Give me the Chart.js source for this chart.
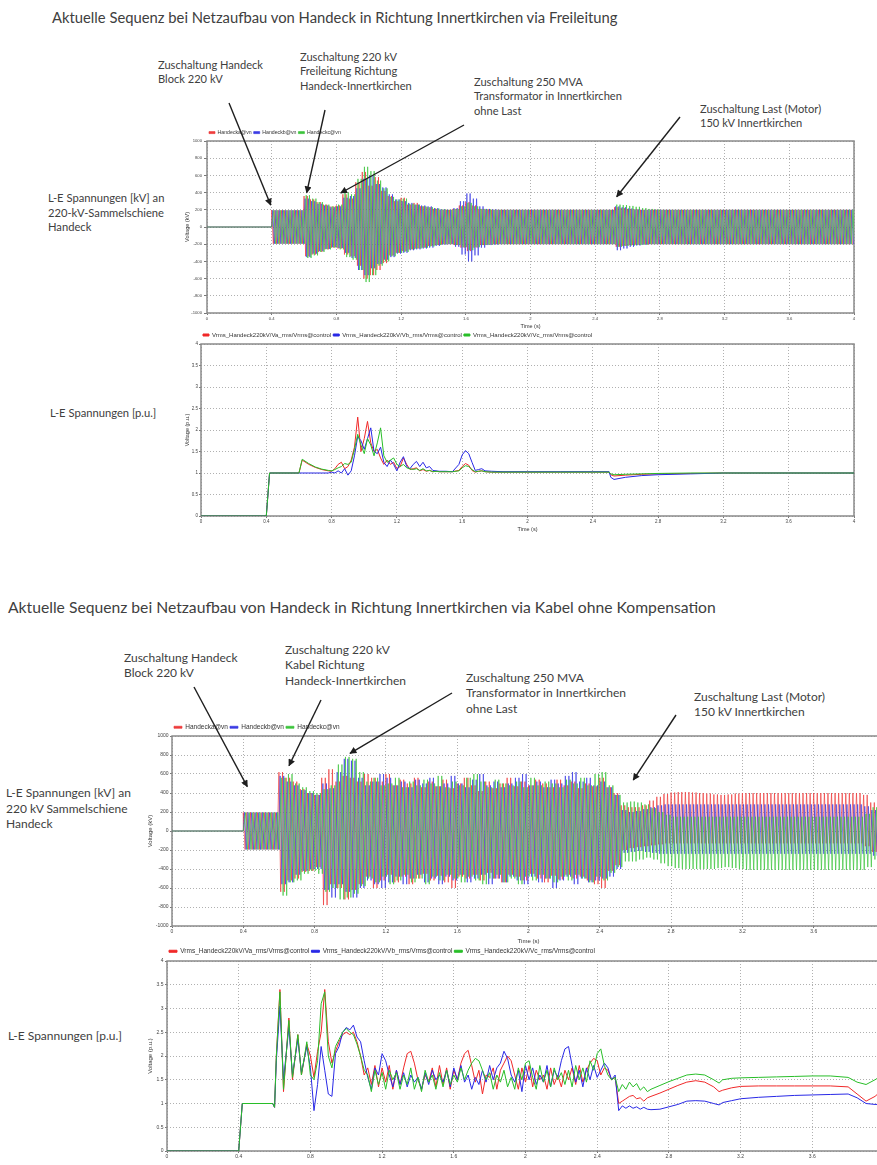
<!DOCTYPE html>
<html>
<head>
<meta charset="utf-8">
<title>Netzaufbau Handeck - Innertkirchen</title>
<script src="https://cdn.jsdelivr.net/npm/chart.js@4.4.1/dist/chart.umd.min.js"></script>
<style>
  html, body { margin: 0; padding: 0; background: #fff; }
  body { position: relative; width: 877px; height: 1165px; overflow: hidden; font-family: Lato, "Open Sans", sans-serif; color: #404040; }
  .txt { position: absolute; white-space: nowrap; }
  canvas { position: absolute; }
  svg { position: absolute; left: 0; top: 0; }
</style>
</head>
<body>

<!-- oben: Freileitung -->
<div class="txt" style="left:52px;top:8px;font-size:14.8px;line-height:18px">Aktuelle Sequenz bei Netzaufbau von Handeck in Richtung Innertkirchen via Freileitung</div>
<div class="txt" style="left:158px;top:58px;font-size:11.1px;line-height:14.3px">Zuschaltung Handeck<br>Block 220 kV</div>
<div class="txt" style="left:300px;top:50px;font-size:11.1px;line-height:14.3px">Zuschaltung 220 kV<br>Freileitung Richtung<br>Handeck-Innertkirchen</div>
<div class="txt" style="left:474px;top:75px;font-size:11.1px;line-height:14.3px">Zuschaltung 250 MVA<br>Transformator in Innertkirchen<br>ohne Last</div>
<div class="txt" style="left:700px;top:102px;font-size:11.1px;line-height:14.3px">Zuschaltung Last (Motor)<br>150 kV Innertkirchen</div>
<div class="txt" style="left:48px;top:191px;font-size:11.2px;line-height:14.7px">L-E Spannungen [kV] an<br>220-kV-Sammelschiene<br>Handeck</div>
<div class="txt" style="left:50px;top:406px;font-size:11.2px;line-height:14.7px">L-E Spannungen [p.u.]</div>

<!-- unten: Kabel -->
<div class="txt" style="left:8px;top:597px;font-size:15.7px;line-height:20px">Aktuelle Sequenz bei Netzaufbau von Handeck in Richtung Innertkirchen via Kabel ohne Kompensation</div>
<div class="txt" style="left:124px;top:650px;font-size:12px;line-height:15.3px">Zuschaltung Handeck<br>Block 220 kV</div>
<div class="txt" style="left:285px;top:642px;font-size:12px;line-height:15.3px">Zuschaltung 220 kV<br>Kabel Richtung<br>Handeck-Innertkirchen</div>
<div class="txt" style="left:466px;top:670px;font-size:12px;line-height:15.3px">Zuschaltung 250 MVA<br>Transformator in Innertkirchen<br>ohne Last</div>
<div class="txt" style="left:694px;top:689px;font-size:12px;line-height:15.3px">Zuschaltung Last (Motor)<br>150 kV Innertkirchen</div>
<div class="txt" style="left:6px;top:785px;font-size:12px;line-height:15.6px">L-E Spannungen [kV] an<br>220 kV Sammelschiene<br>Handeck</div>
<div class="txt" style="left:8px;top:1028px;font-size:12px;line-height:15.6px">L-E Spannungen [p.u.]</div>

<canvas id="osc1"></canvas>
<canvas id="rms1"></canvas>
<canvas id="osc2"></canvas>
<canvas id="rms2"></canvas>

<svg width="877" height="1165">
  <defs>
    <marker id="ah" viewBox="0 0 10 10" refX="9" refY="5" markerWidth="8" markerHeight="7" orient="auto" markerUnits="userSpaceOnUse">
      <path d="M0,0 L10,5 L0,10 z" fill="#1e1e1e"/>
    </marker>
  </defs>
  <g stroke="#1e1e1e" stroke-width="1.4" marker-end="url(#ah)">
    <line x1="229" y1="103" x2="270.7" y2="205"/>
    <line x1="325" y1="110" x2="306.7" y2="192.7"/>
    <line x1="464" y1="125" x2="340.7" y2="193"/>
    <line x1="680" y1="117" x2="616.7" y2="196.7"/>
    <line x1="194" y1="687" x2="247.3" y2="786.7"/>
    <line x1="321" y1="700" x2="289" y2="765.7"/>
    <line x1="452" y1="693" x2="350" y2="753.3"/>
    <line x1="676" y1="715" x2="633.3" y2="780"/>
  </g>
</svg>

<script>
// --- ACHSEN / LEGENDEN ---
const timeTicks = [0, 0.4, 0.8, 1.2, 1.6, 2, 2.4, 2.8, 3.2, 3.6, 4];
const timeLabels = ['0', '0.4', '0.8', '1.2', '1.6', '2', '2.4', '2.8', '3.2', '3.6', '4'];
const kvTicks = [-1000, -800, -600, -400, -200, 0, 200, 400, 600, 800, 1000];
const kvLabels = ['-1000', '-800', '-600', '-400', '-200', '0', '200', '400', '600', '800', '1000'];
const puTicks = [0, 0.5, 1, 1.5, 2, 2.5, 3, 3.5, 4];
const puLabels = ['0', '0.5', '1', '1.5', '2', '2.5', '3', '3.5', '4'];
const oscNames = ['Handecka@vn', 'Handeckb@vn', 'Handeckc@vn'];
const rmsNames = ['Vrms_Handeck220kV/Va_rms/Vrms@control', 'Vrms_Handeck220kV/Vb_rms/Vrms@control', 'Vrms_Handeck220kV/Vc_rms/Vrms@control'];

// --- OSZILLOGRAMME: Scheitelwerte [kV] je 0.04-s-Fenster ab 0.4 s (hi = positiv, lo = negativ) ---
const oscStart = 0.4;
const oscStep = 0.04;
const netPeriod = 0.02; // 50 Hz

// Freileitung
const osc1HiA = [195, 195, 195, 195, 195, 360, 320, 290, 260, 240,
  250, 380, 330, 520, 640, 480, 580, 420, 360, 300,
  340, 260, 280, 240, 230, 210, 200, 200, 210, 250,
  290, 250, 210, 205, 200, 200, 200, 200, 200, 200,
  200, 200, 200, 200, 200, 200, 200, 200, 200, 200,
  200, 200, 200, 230, 220, 210, 205, 200, 200, 200,
  200, 200, 200, 200, 200, 200, 200, 200, 200, 200,
  200, 200, 200, 200, 200, 200, 200, 200, 200, 200,
  200, 200, 200, 200, 200, 200, 200, 200, 200, 200];
const osc1LoA = [-195, -195, -195, -195, -195, -340, -320, -290, -260, -240,
  -250, -320, -340, -450, -600, -560, -500, -420, -330, -300,
  -280, -260, -250, -240, -220, -210, -200, -200, -210, -240,
  -280, -240, -210, -205, -200, -200, -200, -200, -200, -200,
  -200, -200, -200, -200, -200, -200, -200, -200, -200, -200,
  -200, -200, -200, -230, -220, -210, -205, -200, -200, -200,
  -200, -200, -200, -200, -200, -200, -200, -200, -200, -200,
  -200, -200, -200, -200, -200, -200, -200, -200, -200, -200,
  -200, -200, -200, -200, -200, -200, -200, -200, -200, -200];
const osc1HiB = [195, 195, 195, 195, 195, 330, 300, 270, 250, 230,
  240, 340, 360, 450, 560, 600, 500, 460, 380, 320,
  300, 280, 260, 250, 240, 220, 205, 200, 220, 300,
  390, 330, 240, 210, 205, 200, 200, 200, 200, 200,
  200, 200, 200, 200, 200, 200, 200, 200, 200, 200,
  200, 200, 200, 240, 230, 215, 205, 200, 200, 200,
  200, 200, 200, 200, 200, 200, 200, 200, 200, 200,
  200, 200, 200, 200, 200, 200, 200, 200, 200, 200,
  200, 200, 200, 200, 200, 200, 200, 200, 200, 200];
const osc1LoB = [-195, -195, -195, -195, -195, -350, -310, -280, -255, -235,
  -245, -300, -360, -500, -560, -480, -430, -380, -350, -310,
  -300, -270, -260, -250, -240, -220, -205, -200, -230, -320,
  -400, -330, -240, -210, -205, -200, -200, -200, -200, -200,
  -200, -200, -200, -200, -200, -200, -200, -200, -200, -200,
  -200, -200, -200, -270, -250, -230, -215, -205, -200, -200,
  -200, -200, -200, -200, -200, -200, -200, -200, -200, -200,
  -200, -200, -200, -200, -200, -200, -200, -200, -200, -200,
  -200, -200, -200, -200, -200, -200, -200, -200, -200, -200];
const osc1HiC = [195, 195, 195, 195, 195, 370, 330, 290, 260, 240,
  260, 400, 380, 560, 700, 650, 540, 450, 350, 320,
  330, 270, 260, 240, 230, 215, 205, 200, 210, 240,
  280, 240, 210, 205, 200, 200, 200, 200, 200, 200,
  200, 200, 200, 200, 200, 200, 200, 200, 200, 200,
  200, 200, 200, 260, 255, 245, 235, 220, 210, 205,
  200, 200, 200, 200, 200, 200, 200, 200, 200, 200,
  200, 200, 200, 200, 200, 200, 200, 200, 200, 200,
  200, 200, 200, 200, 200, 200, 200, 200, 200, 200];
const osc1LoC = [-195, -195, -195, -195, -195, -360, -330, -290, -260, -240,
  -260, -350, -380, -500, -640, -560, -450, -400, -340, -300,
  -290, -260, -250, -240, -225, -210, -200, -200, -210, -235,
  -270, -235, -210, -205, -200, -200, -200, -200, -200, -200,
  -200, -200, -200, -200, -200, -200, -200, -200, -200, -200,
  -200, -200, -200, -230, -220, -215, -210, -205, -200, -200,
  -200, -200, -200, -200, -200, -200, -200, -200, -200, -200,
  -200, -200, -200, -200, -200, -200, -200, -200, -200, -200,
  -200, -200, -200, -200, -200, -200, -200, -200, -200, -200];

// Kabel ohne Kompensation
const osc2HiA = [195, 195, 195, 195, 195, 620, 560, 520, 440, 400,
  380, 560, 650, 520, 580, 560, 520, 600, 560, 520,
  600, 480, 540, 500, 560, 460, 520, 470, 540, 450,
  500, 560, 480, 420, 520, 450, 500, 560, 470, 520,
  480, 540, 500, 460, 540, 480, 520, 450, 500, 470,
  560, 460, 400, 270, 250, 250, 270, 320, 360, 390,
  405, 410, 410, 405, 400, 395, 385, 380, 385, 395,
  400, 400, 400, 400, 400, 400, 400, 400, 400, 400,
  400, 400, 400, 400, 400, 400, 400, 380, 300, 240];
const osc2LoA = [-195, -195, -195, -195, -195, -640, -520, -500, -430, -420,
  -380, -780, -560, -600, -720, -620, -560, -480, -600, -520,
  -460, -540, -480, -560, -500, -450, -520, -470, -540, -600,
  -480, -500, -460, -520, -440, -500, -540, -460, -480, -520,
  -450, -500, -540, -470, -510, -460, -500, -480, -520, -560,
  -600, -420, -360, -200, -180, -170, -160, -150, -140, -130,
  -130, -130, -130, -130, -130, -130, -130, -130, -130, -130,
  -130, -130, -130, -130, -130, -130, -130, -130, -130, -130,
  -130, -130, -130, -130, -130, -130, -130, -160, -220, -260];
const osc2HiB = [195, 195, 195, 195, 195, 580, 520, 480, 430, 400,
  380, 500, 450, 620, 760, 740, 560, 480, 520, 600,
  560, 480, 520, 460, 540, 500, 560, 470, 500, 580,
  500, 460, 540, 600, 480, 520, 460, 500, 560, 600,
  480, 520, 460, 540, 500, 580, 620, 520, 560, 480,
  520, 460, 380, 220, 200, 210, 230, 250, 270, 280,
  280, 280, 280, 280, 280, 280, 280, 280, 280, 280,
  280, 280, 280, 280, 280, 280, 280, 280, 280, 280,
  280, 280, 280, 280, 280, 280, 280, 260, 220, 200];
const osc2LoB = [-195, -195, -195, -195, -195, -560, -540, -460, -420, -400,
  -400, -620, -700, -560, -640, -700, -600, -520, -560, -600,
  -540, -480, -560, -500, -460, -540, -500, -560, -480, -520,
  -460, -540, -500, -460, -560, -500, -540, -480, -520, -560,
  -480, -540, -500, -600, -520, -480, -560, -500, -540, -520,
  -500, -480, -400, -230, -220, -210, -220, -230, -240, -240,
  -240, -240, -240, -240, -240, -240, -240, -240, -240, -240,
  -240, -240, -240, -240, -240, -240, -240, -240, -240, -240,
  -240, -240, -240, -240, -240, -240, -240, -240, -260, -280];
const osc2HiC = [195, 195, 195, 195, 195, 560, 600, 500, 460, 420,
  400, 440, 480, 700, 780, 760, 620, 520, 560, 480,
  500, 560, 460, 520, 480, 540, 500, 580, 460, 520,
  480, 560, 600, 520, 460, 540, 500, 480, 520, 460,
  560, 480, 520, 500, 460, 540, 500, 560, 480, 600,
  620, 480, 380, 300, 310, 300, 280, 240, 200, 170,
  150, 150, 150, 150, 150, 150, 150, 150, 150, 150,
  150, 150, 150, 150, 150, 150, 150, 150, 150, 150,
  150, 150, 150, 150, 150, 150, 150, 180, 250, 330];
const osc2LoC = [-195, -195, -195, -195, -195, -680, -540, -520, -450, -420,
  -450, -640, -600, -720, -700, -660, -580, -500, -540, -480,
  -560, -520, -460, -540, -500, -560, -480, -520, -460, -500,
  -540, -480, -520, -560, -500, -460, -540, -500, -560, -480,
  -520, -460, -500, -540, -480, -520, -460, -500, -540, -480,
  -520, -440, -380, -320, -320, -300, -280, -300, -340, -370,
  -390, -400, -400, -400, -400, -400, -390, -380, -390, -400,
  -410, -410, -410, -410, -410, -410, -410, -410, -410, -410,
  -410, -410, -410, -410, -410, -410, -410, -380, -300, -260];

// --- EFFEKTIVWERTE [p.u.] ---
const rms1Time = [0, 0.4, 0.42, 0.6, 0.62, 0.66, 0.7, 0.74, 0.78, 0.8,
  0.82, 0.84, 0.86, 0.88, 0.9, 0.92, 0.94, 0.96, 0.98, 1.0,
  1.02, 1.04, 1.06, 1.08, 1.1, 1.12, 1.14, 1.16, 1.18, 1.2,
  1.22, 1.24, 1.26, 1.28, 1.3, 1.32, 1.34, 1.36, 1.38, 1.4,
  1.42, 1.44, 1.46, 1.5, 1.54, 1.58, 1.6, 1.62, 1.64, 1.66,
  1.68, 1.7, 1.72, 1.74, 1.78, 1.85, 2.0, 2.2, 2.4, 2.5,
  2.51, 2.53, 2.6, 2.7, 2.8, 3.0, 3.2, 3.6, 4.0];
const rms1A = [0, 0, 1, 1, 1.3, 1.2, 1.13, 1.08, 1.05, 1.04,
  1.1, 1.2, 1.25, 1.1, 1.15, 1.3, 1.6, 2.3, 1.5, 1.8,
  2.2, 1.7, 1.5, 1.55, 1.35, 1.2, 1.3, 1.2, 1.25, 1.1,
  1.15, 1.35, 1.2, 1.08, 1.1, 1.12, 1.05, 1.08, 1.04, 1.06,
  1.03, 1.04, 1.03, 1.03, 1.03, 1.06, 1.15, 1.22, 1.18, 1.06,
  1.02, 1.04, 1.05, 1.03, 1.02, 1.02, 1.02, 1.02, 1.02, 1.02,
  0.96, 0.93, 0.95, 0.97, 0.98, 0.99, 1.0, 1.0, 1.0];
const rms1B = [0, 0, 1, 1, 1.0, 1.0, 1.0, 1.0, 1.0, 1.02,
  1.0, 1.05, 1.0, 1.1, 0.95, 1.05, 1.4, 1.85, 1.75, 1.55,
  1.8, 2.05, 1.5, 1.45, 1.6, 1.25, 1.15, 1.3, 1.2, 1.05,
  1.25, 1.38, 1.15, 1.1, 1.2, 1.27, 1.15, 1.25, 1.12, 1.15,
  1.06, 1.05, 1.04, 1.04, 1.03, 1.2, 1.42, 1.52, 1.45, 1.25,
  1.06, 1.08, 1.1, 1.05, 1.04, 1.03, 1.03, 1.03, 1.03, 1.03,
  0.9, 0.85, 0.9, 0.94, 0.96, 0.98, 1.0, 1.0, 1.0];
const rms1C = [0, 0, 1, 1, 1.32, 1.22, 1.14, 1.09, 1.06, 1.05,
  1.08, 1.12, 1.15, 1.22, 1.2, 1.25, 1.55, 1.9, 1.65, 1.45,
  1.8, 1.65, 1.4, 1.7, 2.05, 1.4, 1.25, 1.3, 1.35, 1.2,
  1.15, 1.2, 1.12, 1.1, 1.08, 1.1, 1.06, 1.1, 1.05, 1.06,
  1.03, 1.04, 1.03, 1.03, 1.03, 1.05, 1.12, 1.17, 1.15, 1.08,
  1.03, 1.04, 1.05, 1.03, 1.02, 1.02, 1.02, 1.02, 1.02, 1.02,
  0.98, 0.96, 0.97, 0.98, 0.99, 1.0, 1.0, 1.0, 1.0];

const rms2Time = [0, 0.4, 0.42, 0.59, 0.6, 0.61, 0.63, 0.65, 0.68, 0.7,
  0.73, 0.75, 0.78, 0.8, 0.82, 0.84, 0.86, 0.88, 0.9, 0.92,
  0.94, 0.96, 0.98, 1.0, 1.02, 1.04, 1.06, 1.08, 1.1,
  1.12, 1.14, 1.16, 1.18, 1.2, 1.22, 1.24, 1.26, 1.28, 1.3,
  1.32, 1.34, 1.36, 1.38, 1.4, 1.42, 1.44, 1.46, 1.48, 1.5,
  1.52, 1.54, 1.56, 1.58, 1.6, 1.62, 1.64, 1.66, 1.68, 1.7,
  1.72, 1.74, 1.76, 1.78, 1.8, 1.82, 1.84, 1.86, 1.88, 1.9,
  1.92, 1.94, 1.96, 1.98, 2.0, 2.02, 2.04, 2.06, 2.08, 2.1,
  2.12, 2.14, 2.16, 2.18, 2.2, 2.22, 2.24, 2.26, 2.28, 2.3,
  2.32, 2.34, 2.36, 2.38, 2.4, 2.42, 2.44, 2.46, 2.48, 2.5,
  2.52, 2.54, 2.56, 2.58, 2.6, 2.62, 2.64, 2.66, 2.68, 2.7,
  2.75, 2.8, 2.85, 2.9, 2.95, 3.0, 3.05, 3.08, 3.1, 3.15, 3.2,
  3.3, 3.4, 3.5, 3.6, 3.7, 3.8, 3.85, 3.9, 3.95, 4.0];
const rms2A = [0, 0, 1, 1, 0.92, 2.0, 3.4, 1.25, 2.8, 1.5,
  2.45, 1.6, 2.25, 2.0, 1.55, 2.1, 2.5, 3.4, 2.3, 1.85,
  2.1, 2.3, 2.45, 2.5, 2.45, 2.5, 2.3, 2.0, 1.6,
  1.75, 1.4, 1.8, 1.35, 1.75, 1.45, 1.8, 1.3, 1.7, 1.4,
  1.75, 2.05, 2.1, 1.85, 1.5, 1.3, 1.6, 1.45, 1.75, 1.35,
  1.8, 1.4, 1.75, 1.3, 1.7, 1.5, 1.85, 2.05, 2.12, 1.8,
  1.45, 1.7, 1.2, 1.6, 1.55, 1.75, 1.3, 1.7, 1.85, 2.0,
  1.9, 1.6, 1.3, 1.75, 1.45, 1.8, 1.35, 1.7, 1.5, 1.6,
  1.3, 1.75, 1.4, 1.6, 1.35, 1.7, 1.5, 1.75, 1.4, 1.8,
  1.45, 1.7, 1.85, 1.95, 1.9, 1.6, 1.75, 1.7, 1.5, 1.55,
  1.0, 1.05, 1.1, 1.15, 1.17, 1.1, 1.12, 1.05, 1.12, 1.15,
  1.22, 1.3, 1.38, 1.45, 1.48, 1.45, 1.35, 1.25, 1.28, 1.33, 1.36,
  1.37, 1.37, 1.37, 1.37, 1.37, 1.35, 1.2, 1.05, 1.15, 1.32];
const rms2B = [0, 0, 1, 1, 0.92, 1.9, 3.05, 1.5, 2.6, 1.6,
  2.35, 1.65, 2.2, 1.75, 0.85, 1.4, 2.2, 1.7, 1.2, 1.15,
  2.05, 2.2, 2.5, 2.6, 2.55, 2.65, 2.4, 2.3, 1.9,
  1.55, 1.3, 1.75, 1.6, 2.05, 1.9, 1.6, 1.35, 1.7, 1.4,
  1.65, 1.35, 1.6, 1.45, 1.55, 1.3, 1.65, 1.4, 1.7, 1.5,
  1.6, 1.45, 1.7, 1.35, 1.75, 1.5, 1.8, 1.45, 1.6, 1.3,
  1.55, 1.4, 1.7, 1.45, 1.8, 1.5, 1.75, 1.85, 2.1, 1.95,
  1.6, 1.45, 1.7, 1.25, 1.8, 1.5, 1.75, 1.4, 1.6, 1.45,
  1.8, 1.35, 1.7, 1.55, 1.9, 2.15, 2.2, 1.8, 1.45, 1.7,
  1.35, 1.75, 1.5, 1.8, 1.55, 1.7, 1.85, 1.75, 1.5, 1.6,
  0.85, 0.95, 0.9, 0.95, 0.9, 0.93, 0.88, 0.92, 0.88, 0.87,
  0.88, 0.93, 0.98, 1.05, 1.06, 1.05, 1.0, 0.97, 1.02, 1.06, 1.1,
  1.13, 1.15, 1.17, 1.18, 1.19, 1.2, 1.12, 1.0, 0.98, 0.98];
const rms2C = [0, 0, 1, 1, 0.92, 2.0, 3.35, 1.3, 2.75, 1.55,
  2.45, 1.6, 2.3, 1.6, 1.5, 1.9, 3.1, 3.35, 2.0, 1.75,
  2.2, 2.35, 2.5, 2.58, 2.5, 2.45, 2.25, 2.0, 1.7,
  1.6, 1.25, 1.7, 1.4, 1.65, 1.3, 1.7, 1.5, 1.65, 1.3,
  1.6, 1.4, 1.75, 1.3, 1.55, 1.25, 1.7, 1.45, 1.6, 1.3,
  1.65, 1.35, 1.7, 1.4, 1.6, 1.45, 1.75, 1.5, 1.7, 1.85,
  1.95, 1.9, 1.7, 1.5, 1.65, 1.3, 1.6, 1.45, 1.7, 1.35,
  1.55, 1.3, 1.75, 1.5, 1.85, 1.9, 1.55, 1.3, 1.8, 1.45,
  1.7, 1.35, 1.75, 1.5, 1.65, 1.4, 1.7, 1.35, 1.8, 1.5,
  1.75, 1.45, 1.9, 1.7, 2.05, 2.15, 1.8, 1.6, 1.5, 1.55,
  1.25, 1.4, 1.3, 1.45, 1.35, 1.42, 1.28, 1.35, 1.25, 1.3,
  1.38, 1.46, 1.53, 1.6, 1.62, 1.6, 1.5, 1.43, 1.5, 1.53, 1.54,
  1.55, 1.56, 1.57, 1.58, 1.58, 1.55, 1.45, 1.4, 1.5, 1.62];

// --- FARBEN / LAGE ---
const oscColors = ['rgb(238,60,60)', 'rgb(60,60,228)', 'rgb(60,196,60)'];
const rmsColors = ['rgb(240,40,40)', 'rgb(40,40,230)', 'rgb(40,190,40)'];

// x/y = Canvas-Ecke, yW/xH = Achsbreite/-höhe, legH = Legendenhöhe
const boxes = {
  osc1: {x: 184, y: 128, w: 690, h: 202, yW: 23, xH: 17, legH: 13, padR: 20, tickF: 4.2, legF: 5.2, boxW: 6, titleF: 5.5, yTL: 3, yPad: 2, lw: 0.7},
  rms1: {x: 184, y: 330, w: 690, h: 203, yW: 17, xH: 17, legH: 14, padR: 20, tickF: 4.5, legF: 6, boxW: 6, titleF: 5.5, yTL: 2, yPad: 1, lw: 1},
  osc2: {x: 147, y: 722, w: 748, h: 223, yW: 25, xH: 19, legH: 14, padR: 10, tickF: 5, legF: 6.5, boxW: 8, titleF: 6, yTL: 2, yPad: 1.5, lw: 0.7},
  rms2: {x: 147, y: 946, w: 747, h: 225, yW: 20, xH: 20, legH: 15, padR: 10, tickF: 5, legF: 6.5, boxW: 8, titleF: 6, yTL: 2, yPad: 1.5, lw: 1}
};

function wave(hi, lo, shift) {
  const pts = [{x: 0, y: 0}, {x: oscStart, y: 0}];
  const half = netPeriod / 2;
  hi.forEach((h, k) => {
    const t = oscStart + k * oscStep + shift;
    pts.push({x: t, y: h}, {x: t + half, y: lo[k]},
             {x: t + netPeriod, y: h}, {x: t + netPeriod + half, y: lo[k]});
  });
  return pts;
}

function trace(times, vals) {
  return times.map((t, i) => ({x: t, y: vals[i]}));
}

// Rahmen um die Zeichenfläche (unter den Kurven)
const frame = {
  id: 'frame',
  beforeDatasetsDraw(chart) {
    const {ctx, chartArea: a} = chart;
    ctx.save();
    ctx.strokeStyle = '#8a8a8a';
    ctx.lineWidth = 1.5;
    ctx.strokeRect(a.left, a.top, a.right - a.left, a.bottom - a.top);
    ctx.restore();
  }
};

const font = size => ({family: '"Liberation Sans", Arial, sans-serif', size});

function plot(id, series, names, colors, yTicks, yLabels, yMin, yMax, yTitle) {
  const b = boxes[id];
  const cv = document.getElementById(id);
  cv.width = b.w;
  cv.height = b.h;
  cv.style.left = b.x + 'px';
  cv.style.top = b.y + 'px';
  return new Chart(cv, {
    type: 'line',
    data: {
      datasets: series.map((pts, i) => ({
        label: names[i],
        data: pts,
        borderColor: colors[i],
        backgroundColor: colors[i],
        borderWidth: b.lw,
        pointRadius: 0,
        tension: 0,
        order: 2 - i
      }))
    },
    options: {
      responsive: false,
      animation: false,
      parsing: false,
      events: [],
      layout: {padding: {left: 0, right: b.padR, top: 0, bottom: 0}},
      plugins: {
        legend: {
          position: 'top', align: 'start', fullSize: false, maxHeight: b.legH,
          labels: {
            boxWidth: b.boxW, boxHeight: 2, padding: 2, color: '#333', font: font(b.legF),
            sort: (p, q) => p.datasetIndex - q.datasetIndex
          }
        },
        tooltip: {enabled: false}
      },
      scales: {
        x: {
          type: 'linear', min: 0, max: 4,
          afterFit: s => { s.height = b.xH; },
          afterBuildTicks: s => { s.ticks = timeTicks.map(value => ({value})); },
          ticks: {callback: (v, i) => timeLabels[i], font: font(b.tickF), color: '#444', padding: 1, maxRotation: 0, autoSkip: false},
          grid: {color: '#b0b0b0', tickColor: '#777', tickLength: 2},
          border: {display: false, dash: [1, 2]},
          title: {display: true, text: 'Time (s)', font: font(b.titleF), color: '#333', padding: 0}
        },
        y: {
          type: 'linear', min: yMin, max: yMax,
          afterFit: s => { s.width = b.yW; },
          afterBuildTicks: s => { s.ticks = yTicks.map(value => ({value})); },
          ticks: {callback: (v, i) => yLabels[i], font: font(b.tickF), color: '#444', padding: b.yPad, autoSkip: false},
          grid: {color: '#b0b0b0', tickColor: '#777', tickLength: b.yTL},
          border: {display: false, dash: [1, 2]},
          title: {display: true, text: yTitle, font: font(b.titleF), color: '#333', padding: 0}
        }
      }
    },
    plugins: [frame]
  });
}

const third = netPeriod / 3;

plot('osc1', [wave(osc1HiA, osc1LoA, 0), wave(osc1HiB, osc1LoB, third), wave(osc1HiC, osc1LoC, 2 * third)],
  oscNames, oscColors, kvTicks, kvLabels, -1000, 1000, 'Voltage (kV)');
plot('rms1', [trace(rms1Time, rms1A), trace(rms1Time, rms1B), trace(rms1Time, rms1C)],
  rmsNames, rmsColors, puTicks, puLabels, 0, 4, 'Voltage (p.u.)');
plot('osc2', [wave(osc2HiA, osc2LoA, 0), wave(osc2HiB, osc2LoB, third), wave(osc2HiC, osc2LoC, 2 * third)],
  oscNames, oscColors, kvTicks, kvLabels, -1000, 1000, 'Voltage (kV)');
plot('rms2', [trace(rms2Time, rms2A), trace(rms2Time, rms2B), trace(rms2Time, rms2C)],
  rmsNames, rmsColors, puTicks, puLabels, 0, 4, 'Voltage (p.u.)');
</script>
</body>
</html>
